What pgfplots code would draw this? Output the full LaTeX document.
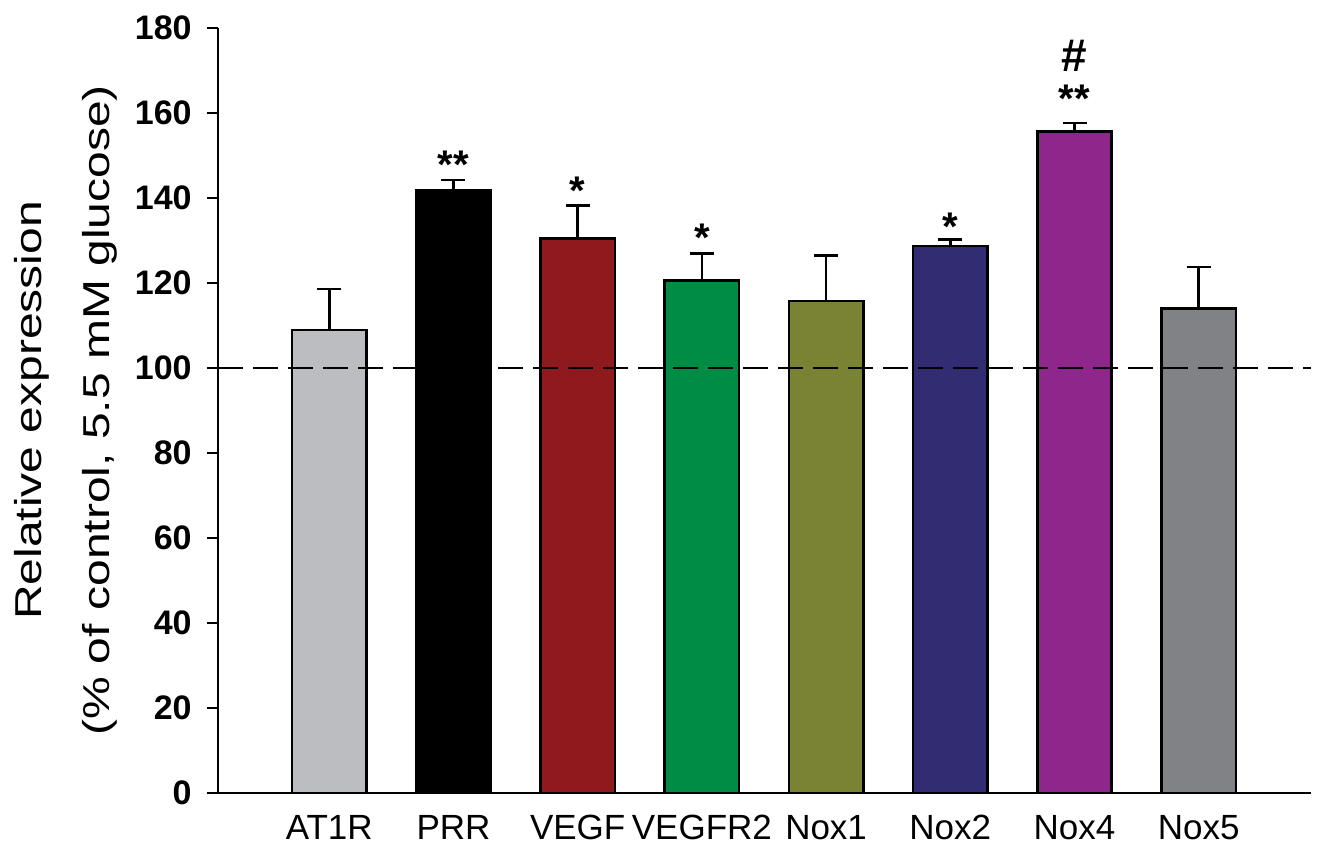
\documentclass[border=0pt]{standalone}
\usepackage{pgfplots}
\pgfplotsset{compat=1.18}
\usepackage{fontspec}
\setmainfont{Liberation Sans}
\definecolor{cAT}{RGB}{187,189,192}
\definecolor{cPRR}{RGB}{0,0,0}
\definecolor{cVEGF}{RGB}{142,26,30}
\definecolor{cVEGFR}{RGB}{0,140,69}
\definecolor{cNoxA}{RGB}{122,130,52}
\definecolor{cNoxB}{RGB}{50,45,115}
\definecolor{cNoxD}{RGB}{143,38,140}
\definecolor{cNoxE}{RGB}{128,130,134}
\pgfplotsset{
  mybar/.style={ybar, bar shift=0pt, bar width=0.6, fill=#1, draw=black, line width=1.3pt,
    error bars/.cd, y dir=plus, y explicit,
    error bar style={line width=1.3pt, black},
    error mark options={rotate=90, mark size=6pt, line width=1.3pt, black}},
}
\begin{document}
\begin{tikzpicture}
\begin{axis}[
  name=ax,
  scale only axis,
  width=546.5pt, height=382.5pt,
  xmin=-0.896, xmax=7.904,
  ymin=0, ymax=180,
  axis x line=bottom, axis y line=left,
  axis line style={-, line width=1.2pt, black},
  ytick={0,20,...,180},
  xtick={0,1,...,7},
  xticklabels={AT1R,PRR,VEGF,VEGFR2,Nox1,Nox2,Nox4,Nox5},
  tick align=outside,
  major tick length=5.5pt,
  ytick style={line width=1.2pt, black},
  xtick style={draw=none},
  /pgf/number format/assume math mode=true,
  yticklabel style={font=\fontsize{17}{20}\selectfont\bfseries, inner sep=0pt, anchor=east, xshift=-7.5pt},
  xticklabel style={font=\fontsize{17.5}{21}\selectfont, inner sep=0pt, anchor=north, yshift=-5.5pt},
  ylabel={\scalebox{1}[0.78]{\begin{tabular}{@{}c@{}}Relative expression\\[14.5pt](\% of control, 5.5 mM glucose)\end{tabular}}},
  ylabel style={at={(axis description cs:-0.0864,0.5)}, anchor=south, inner sep=0pt, font=\fontsize{24}{29}\selectfont},
  ybar, bar width=0.6,
  clip=false,
]
\addplot[mybar=cAT] coordinates {(0,108.9) +- (0,9.7)};
\addplot[mybar=cPRR] coordinates {(1,141.7) +- (0,2.5)};
\addplot[mybar=cVEGF] coordinates {(2,130.4) +- (0,7.9)};
\addplot[mybar=cVEGFR] coordinates {(3,120.6) +- (0,6.4)};
\addplot[mybar=cNoxA] coordinates {(4,115.8) +- (0,10.7)};
\addplot[mybar=cNoxB] coordinates {(5,128.7) +- (0,1.6)};
\addplot[mybar=cNoxD] coordinates {(6,155.6) +- (0,2.0)};
\addplot[mybar=cNoxE] coordinates {(7,114.0) +- (0,9.8)};
\addplot[sharp plot, black, line width=1.4pt, dash pattern=on 12.5pt off 5pt, forget plot] coordinates {(-0.896,100) (7.904,100)};
\node[font=\fontsize{20}{24}\selectfont\bfseries, anchor=base] at (axis cs:1,144.5) {**};
\node[font=\fontsize{20}{24}\selectfont\bfseries, anchor=base] at (axis cs:2,138.5) {*};
\node[font=\fontsize{20}{24}\selectfont\bfseries, anchor=base] at (axis cs:3,127.5) {*};
\node[font=\fontsize{20}{24}\selectfont\bfseries, anchor=base] at (axis cs:5,130) {*};
\node[font=\fontsize{20}{24}\selectfont\bfseries, anchor=base] at (axis cs:6,160) {**};
\node[font=\fontsize{23}{27}\selectfont\bfseries, anchor=base] at (axis cs:6,169.8) {\#};
\end{axis}
\pgfresetboundingbox
\path[use as bounding box] ([xshift=-109pt,yshift=-28.5pt]ax.south west) rectangle ([xshift=4.5pt,yshift=14pt]ax.north east);
\end{tikzpicture}
\end{document}
